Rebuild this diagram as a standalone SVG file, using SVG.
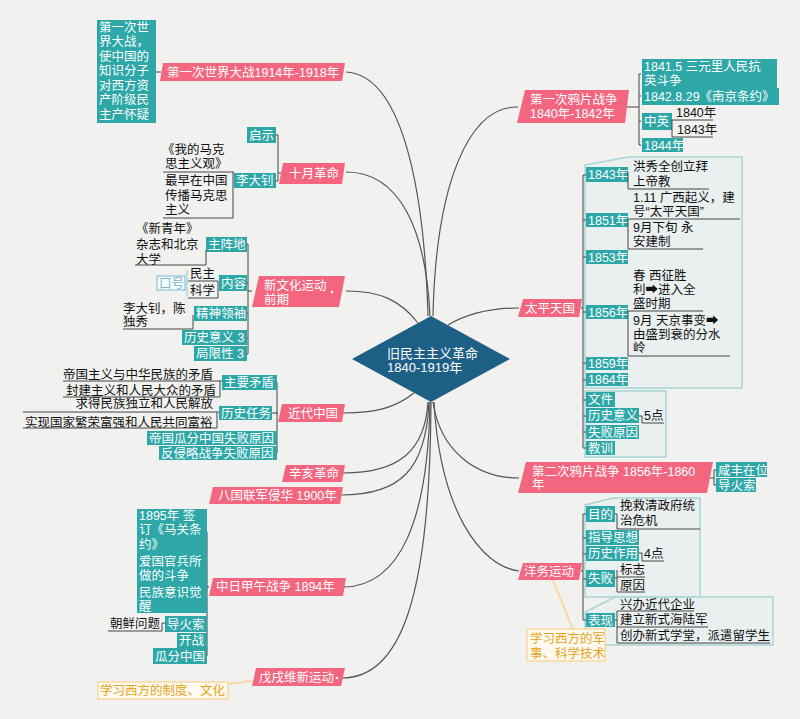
<svg xmlns="http://www.w3.org/2000/svg" width="800" height="719" viewBox="0 0 800 719">
<style>
.pk{fill:#f4667f}
.tl{fill:#2da7a7}
.bd{fill:#e9eff0;fill-opacity:0.85;stroke:#a8d6d6;stroke-width:1.5}
.or{fill:#fffaf0;stroke:#fbd38a;stroke-width:1.2}
text{font-family:"Liberation Sans","Noto Sans CJK SC","DejaVu Sans",sans-serif;font-size:12.5px}
.w{fill:#ffffff}
.k{fill:#111111}
.ot{fill:#e6a219}
.ln{stroke:#444;fill:none;stroke-width:1}
.cv{stroke:#555;fill:none;stroke-width:1.2}
</style>
<rect x="0" y="0" width="800" height="719" fill="#f1f1ef"/>

<g id="connectors">
<path class="cv" d="M428 316 C424 180 400 75 346 72"/>
<path class="cv" d="M430 316 C426 230 400 172 346 172"/>
<path class="cv" d="M418 323 C400 300 380 291 346 291"/>
<path class="cv" d="M433 316 C436 180 470 106 518 107"/>
<path class="cv" d="M448 325 C470 312 495 308 519 308"/>
<path class="cv" d="M414 393 C395 408 375 413 343 413"/>
<path class="cv" d="M428 402 C425 450 400 473 343 473"/>
<path class="cv" d="M429 402 C426 470 400 495 341 495"/>
<path class="cv" d="M430 402 C428 520 400 586 344 587"/>
<path class="cv" d="M431 402 C430 600 400 678 342 678"/>
<path class="cv" d="M433 402 C440 450 475 478 519 478"/>
<path class="cv" d="M434 402 C440 510 480 566 519 571"/>
<path d="M252 681 L228 684" stroke="#fcd8a0" stroke-width="2" fill="none"/>
<path d="M553 580 L573 630" stroke="#fcd8a0" stroke-width="2" fill="none"/>
</g>

<g id="center">
<polygon points="352,359 431,316 510,359 431,402" fill="#1e5f86"/>
<text class="w" style="font-size:13px"><tspan x="387" y="357.5">旧民主主义革命</tspan><tspan x="387" y="372">1840-1919年</tspan></text>
</g>

<g id="wwi">
<polygon class="pk" points="163,63 345,63 342,81 160,81"/>
<text class="w" x="167" y="76.5">第一次世界大战1914年-1918年</text>
<path class="ln" d="M156 72 H161"/>
<rect class="tl" x="97" y="20" width="59" height="103"/>
<text class="w"><tspan x="99" y="31.5">第一次世</tspan><tspan x="99" y="46">界大战，</tspan><tspan x="99" y="60.6">使中国的</tspan><tspan x="99" y="75.2">知识分子</tspan><tspan x="99" y="89.8">对西方资</tspan><tspan x="99" y="104.4">产阶级民</tspan><tspan x="99" y="119">主产怀疑</tspan></text>
</g>

<g id="october">
<polygon class="pk" points="283,163 345,163 342,184 279,184"/>
<text class="w" x="289" y="178">十月革命</text>
<path class="ln" d="M276 135 H278 V181 H276 M278 173 H281"/>
<rect class="tl" x="247" y="127" width="29" height="16"/>
<text class="w" x="249" y="139.5">启示</text>
<rect class="tl" x="234" y="173" width="42" height="15"/>
<text class="w" x="236" y="185">李大钊</text>
<text class="k"><tspan x="162" y="153.5">《我的马克</tspan><tspan x="165" y="168">思主义观》</tspan></text>
<path class="ln" d="M163 172 H234 M233 172 V218 H163"/>
<text class="k"><tspan x="165" y="185">最早在中国</tspan><tspan x="165" y="199.5">传播马克思</tspan><tspan x="165" y="213.5">主义</tspan></text>
</g>

<g id="newculture">
<polygon class="pk" points="259,276 345,276 339,307 252,307"/>
<text class="w"><tspan x="264" y="290">新文化运动</tspan><tspan x="264" y="303.5">前期</tspan></text>
<circle cx="332" cy="292" r="1.2" fill="#fff"/>
<path class="ln" d="M252 291 H248 M246 244 H248 V354 H246 M246 283 H248 M246 313 H248 M246 338 H248"/>
<rect class="tl" x="206" y="237" width="41" height="15"/>
<text class="w" x="208" y="249">主阵地</text>
<text class="k"><tspan x="136" y="232.5">《新青年》</tspan><tspan x="136" y="248.5">杂志和北京</tspan><tspan x="136" y="263.5">大学</tspan></text>
<path class="ln" d="M135 265 H206 V250"/>
<rect class="tl" x="219" y="275" width="28" height="16"/>
<text class="w" x="221" y="288">内容</text>
<text class="k"><tspan x="190" y="277.5">民主</tspan><tspan x="190" y="294.5">科学</tspan></text>
<path class="ln" d="M188 281 H218 V298 H188"/>
<path d="M187 270 V297" stroke="#a8d4e4" stroke-width="1.5" fill="none"/>
<rect x="157" y="276" width="28" height="14" fill="#f6fbfd" stroke="#8cc4dc" stroke-width="1.2"/>
<text x="159" y="288" fill="#7db6d2">口号</text>
<rect class="tl" x="194" y="306" width="53" height="15"/>
<text class="w" x="196" y="318">精神领袖</text>
<text class="k"><tspan x="123" y="312.5">李大钊，陈</tspan><tspan x="123" y="325.5">独秀</tspan></text>
<path class="ln" d="M123 329 H193 V315"/>
<rect class="tl" x="182" y="330" width="65" height="15"/>
<text class="w" x="184" y="342">历史意义 3</text>
<rect class="tl" x="194" y="346" width="53" height="15"/>
<text class="w" x="196" y="358">局限性 3</text>
</g>

<g id="modernchina">
<polygon class="pk" points="282,404 345,404 342,422 278,422"/>
<text class="w" x="288" y="417.5">近代中国</text>
<path class="ln" d="M278 413 H277 M275 382 H277 V453 H275 M272 413 H277 M275 438 H277"/>
<rect class="tl" x="222" y="375" width="55" height="15"/>
<text class="w" x="224" y="387">主要矛盾</text>
<text class="k" x="213" y="378.5" text-anchor="end">帝国主义与中华民族的矛盾</text>
<path class="ln" d="M63 381 H222 M220 381 V397 H63"/>
<text class="k" x="66" y="394.5">封建主义和人民大众的矛盾</text>
<rect class="tl" x="219" y="406" width="53" height="14"/>
<text class="w" x="221" y="417.5">历史任务</text>
<circle cx="274.5" cy="413" r="1" fill="#999"/>
<text class="k" x="213" y="407.5" text-anchor="end">求得民族独立和人民解放</text>
<path class="ln" d="M23 412 H219 M217 412 V428 H23"/>
<text class="k" x="25" y="426.5">实现国家繁荣富强和人民共同富裕</text>
<rect class="tl" x="147" y="431" width="130" height="14"/>
<text class="w" x="149" y="442.5">帝国瓜分中国失败原因</text>
<rect class="tl" x="159" y="446" width="118" height="14"/>
<text class="w" x="161" y="457.5">反侵略战争失败原因</text>
</g>

<g id="xinhai">
<polygon class="pk" points="286,465 345,465 342,482 282,482"/>
<text class="w" x="289" y="478">辛亥革命</text>
</g>

<g id="baguo">
<polygon class="pk" points="213,487 343,487 340,504 209,504"/>
<text class="w" x="218" y="499.5">八国联军侵华 1900年</text>
</g>

<g id="jiawu">
<polygon class="pk" points="213,578 346,578 343,596 209,596"/>
<text class="w" x="216" y="590.5">中日甲午战争 1894年</text>
<path class="ln" d="M209 587 H207 M205 532 H207 V656 H205 M205 569 H207 M205 599 H207 M205 624 H207 M205 640 H207"/>
<rect class="tl" x="137" y="509" width="70" height="104"/>
<text class="w"><tspan x="139" y="519.5">1895年 签</tspan><tspan x="139" y="534">订《马关条</tspan><tspan x="139" y="548.5">约》</tspan></text>
<text class="w"><tspan x="139" y="565.5">爱国官兵所</tspan><tspan x="139" y="580">做的斗争</tspan></text>
<text class="w"><tspan x="139" y="596.5">民族意识觉</tspan><tspan x="139" y="611">醒</tspan></text>
<rect class="tl" x="165" y="616" width="42" height="16"/>
<text class="w" x="167" y="628.5">导火索</text>
<text class="k" x="110" y="627.5">朝鲜问题</text>
<path class="ln" d="M108 631 H162 V623 H165"/>
<rect class="tl" x="177" y="633" width="30" height="15"/>
<text class="w" x="179" y="645">开战</text>
<rect class="tl" x="153" y="648" width="54" height="16"/>
<text class="w" x="155" y="660.5">瓜分中国</text>
</g>

<g id="wuxu">
<polygon class="pk" points="256,668 345,668 341,686 252,686"/>
<text class="w" x="259" y="682">戊戌维新运动</text>
<circle cx="337" cy="678" r="1.2" fill="#fff"/>
<rect class="or" x="98" y="682" width="130" height="17"/>
<text class="ot" x="100" y="694.5">学习西方的制度、文化</text>
</g>

<g id="opium1">
<polygon class="pk" points="525,90 629,90 625,123 517,123"/>
<text class="w"><tspan x="530" y="104">第一次鸦片战争</tspan><tspan x="530" y="117.5">1840年-1842年</tspan></text>
<path class="ln" d="M627 107 H639 M641 74 H639 V145 H641 M641 96 H639 M641 121 H639"/>
<rect class="tl" x="642" y="59" width="135" height="29"/>
<text class="w"><tspan x="644" y="70.5">1841.5 三元里人民抗</tspan><tspan x="644" y="85">英斗争</tspan></text>
<rect class="tl" x="642" y="88" width="137" height="17"/>
<text class="w" x="644" y="100.5">1842.8.29《南京条约》</text>
<rect class="tl" x="642" y="113" width="30" height="17"/>
<text class="w" x="644" y="126">中英</text>
<text class="k" x="676" y="116.5">1840年</text>
<path class="ln" d="M672 120 H713 M672 120 V137 H713"/>
<text class="k" x="677" y="134">1843年</text>
<rect class="tl" x="642" y="138" width="41" height="14"/>
<text class="w" x="644" y="149.5">1844年</text>
</g>

<g id="taiping">
<polygon class="bd" points="585,165 628,157 742,157 742,388 585,388"/>
<polygon class="bd" points="585,391 666,391 666,457 585,457"/>
<polygon class="pk" points="523,299 582,299 579,317 518,317"/>
<text class="w" x="525" y="312.5">太平天国</text>
<path class="ln" d="M581 308 H583 M586 175 H583 V448 H586 M586 220 H583 M586 257 H583 M586 312 H583 M586 363 H583 M586 380 H583 M586 400 H583 M586 416 H583 M586 432 H583"/>
<rect class="tl" x="586" y="167" width="42" height="15"/>
<text class="w" x="588" y="179">1843年</text>
<text class="k"><tspan x="633" y="170.5">洪秀全创立拜</tspan><tspan x="633" y="185.5">上帝教</tspan></text>
<path class="ln" d="M628 172 V189 H709"/>
<rect class="tl" x="586" y="213" width="42" height="14"/>
<text class="w" x="588" y="224.5">1851年</text>
<text class="k"><tspan x="633" y="201.5">1.11 广西起义，建</tspan><tspan x="633" y="215.5">号“太平天国”</tspan></text>
<path class="ln" d="M628 219 H740 M628 219 V249 H703"/>
<text class="k"><tspan x="633" y="231.5">9月下旬 永</tspan><tspan x="633" y="245.5">安建制</tspan></text>
<rect class="tl" x="586" y="250" width="42" height="14"/>
<text class="w" x="588" y="261.5">1853年</text>
<rect class="tl" x="586" y="305" width="42" height="14"/>
<text class="w" x="588" y="316.5">1856年</text>
<text class="k"><tspan x="633" y="279.5">春 西征胜</tspan><tspan x="633" y="293.5">利➡进入全</tspan><tspan x="633" y="307.5">盛时期</tspan></text>
<path class="ln" d="M628 311 H703 M628 311 V356 H730"/>
<text class="k"><tspan x="633" y="324.5">9月 天京事变➡</tspan><tspan x="633" y="338.5">由盛到衰的分水</tspan><tspan x="633" y="352">岭</tspan></text>
<rect class="tl" x="586" y="357" width="42" height="13"/>
<text class="w" x="588" y="368">1859年</text>
<rect class="tl" x="586" y="373" width="42" height="13"/>
<text class="w" x="588" y="384">1864年</text>
<rect class="tl" x="586" y="392" width="29" height="15"/>
<text class="w" x="588" y="404">文件</text>
<rect class="tl" x="586" y="408" width="53" height="15"/>
<text class="w" x="588" y="420">历史意义</text>
<rect class="tl" x="586" y="425" width="53" height="14"/>
<text class="w" x="588" y="436.5">失败原因</text>
<rect class="tl" x="586" y="441" width="29" height="14"/>
<text class="w" x="588" y="452.5">教训</text>
<text class="k" x="644" y="419.5">5点</text>
<path class="ln" d="M639 416 H642 V423 H664"/>
</g>

<g id="opium2">
<polygon class="pk" points="526,462 713,462 707,493 518,493"/>
<text class="w"><tspan x="532" y="475.5">第二次鸦片战争 1856年-1860</tspan><tspan x="532" y="489">年</tspan></text>
<path class="ln" d="M710 478 H714 M716 470 H714 V485 H716"/>
<rect class="tl" x="716" y="462" width="51" height="15"/>
<text class="w" x="718" y="474.5">咸丰在位</text>
<rect class="tl" x="716" y="478" width="40" height="14"/>
<text class="w" x="718" y="489.5">导火索</text>
</g>

<g id="yangwu">
<polygon class="bd" points="585,505 613,498 700,498 700,597 585,597"/>
<polygon class="bd" points="585,612 615,597 773,597 773,645 585,645"/>
<polygon class="pk" points="523,563 582,563 579,580 518,580"/>
<text class="w" x="524" y="575.5">洋务运动</text>
<path class="ln" d="M581 571 H583 M586 514 H583 V620 H586 M586 538 H583 M586 554 H583 M586 579 H583"/>
<rect class="tl" x="586" y="506" width="29" height="16"/>
<text class="w" x="588" y="518.5">目的</text>
<text class="k"><tspan x="620" y="509.5">挽救清政府统</tspan><tspan x="620" y="525">治危机</tspan></text>
<path class="ln" d="M615 514 H617 V529 H700"/>
<rect class="tl" x="586" y="530" width="53" height="15"/>
<text class="w" x="588" y="542">指导思想</text>
<rect class="tl" x="586" y="546" width="53" height="15"/>
<text class="w" x="588" y="558">历史作用</text>
<text class="k" x="644" y="558">4点</text>
<path class="ln" d="M639 553 H642 V561 H664"/>
<rect class="tl" x="586" y="570" width="29" height="17"/>
<text class="w" x="588" y="583">失败</text>
<text class="k"><tspan x="620" y="574">标志</tspan><tspan x="620" y="589.5">原因</tspan></text>
<path class="ln" d="M615 578 H617 M617 577 H645 M617 570 V592 H645"/>
<rect class="tl" x="586" y="613" width="29" height="14"/>
<text class="w" x="588" y="625">表现</text>
<text class="k" x="620" y="609">兴办近代企业</text>
<text class="k" x="620" y="624">建立新式海陆军</text>
<text class="k" x="620" y="640">创办新式学堂，派遣留学生</text>
<path class="ln" d="M617 611 H694 M617 627 H708 M617 611 V643 H770 M615 620 H617"/>
<rect class="or" x="527" y="629" width="78" height="32"/>
<text class="ot"><tspan x="530" y="642.5">学习西方的军</tspan><tspan x="530" y="657.5">事、科学技术</tspan></text>
</g>
</svg>
